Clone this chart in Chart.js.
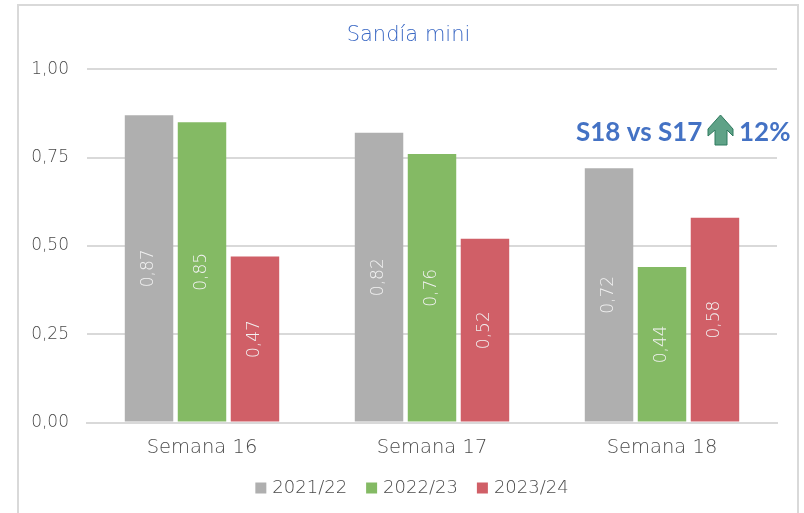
<!DOCTYPE html>
<html><head><meta charset="utf-8">
<style>html,body{margin:0;padding:0;background:#fff}canvas{display:block}</style>
<script src="https://cdn.jsdelivr.net/npm/chart.js@4"></script></head>
<body><div style="width:804px;height:513px;position:relative"><canvas id="c" width="804" height="513"></canvas></div>
<script>
const categories=["Semana 16","Semana 17","Semana 18"];
const series2122=[0.87,0.82,0.72];
const series2223=[0.85,0.76,0.44];
const series2324=[0.47,0.52,0.58];
const labels=["2021/22","2022/23","2023/24"];
const colors=["#AFAFAF","#84BA64","#D05F67"];
const yTicks=[0,0.25,0.5,0.75,1];
const FONT='"DejaVu Sans",sans-serif';
const BOLD='"Lato","Open Sans",sans-serif';
const TEXT='#4A4A4A';
const fmt=v=>v.toFixed(2).replace('.',',');
const decor={id:'decor',
 afterLayout(ch){const l=ch.legend,t=ch.titleBlock;
  l.left+=11;l.right+=11;l.top+=9;l.bottom+=9;
  t.left+=6;t.right+=6;ch.scales.x.bottom+=18;},
 beforeDraw(ch){const x=ch.ctx;x.save();x.strokeStyle='#D9D9D9';x.lineWidth=2;
  x.beginPath();x.moveTo(18,513);x.lineTo(18,5);x.lineTo(798,5);x.lineTo(798,513);x.stroke();x.restore();},
 afterDatasetsDraw(ch){const x=ch.ctx;x.save();
  ch.data.datasets.forEach((d,i)=>{ch.getDatasetMeta(i).data.forEach((b,j)=>{
   const cy=(b.y+b.base)/2;x.save();x.translate(b.x,cy);x.rotate(-Math.PI/2);
   x.fillStyle='#F2F2F2';x.font='200 17px '+FONT;x.textAlign='center';x.textBaseline='middle';
   x.fillText(fmt(d.data[j]),0,0);x.restore();});});
  x.font='bold 26px '+BOLD;x.fillStyle='#4472C4';x.textBaseline='middle';x.textAlign='left';
  x.fillText('S18 vs S17',576,133);x.fillText('12%',739,133);
  x.fillStyle='#5FA287';x.strokeStyle='#2F7A5F';x.lineWidth=1;
  x.beginPath();x.moveTo(720.5,115);x.lineTo(733,129);x.lineTo(733,136);x.lineTo(727,130);x.lineTo(727,145);x.lineTo(715,145);x.lineTo(715,130);x.lineTo(708,136);x.lineTo(708,129);x.closePath();x.fill();x.stroke();
  x.restore();}};
new Chart(document.getElementById('c'),{type:'bar',
 data:{labels:categories,datasets:[series2122,series2223,series2324].map((d,i)=>({label:labels[i],data:d,backgroundColor:colors[i],categoryPercentage:0.691,barPercentage:0.915}))},
 plugins:[decor],
 options:{responsive:false,animation:false,
  layout:{padding:{left:28,right:27,top:23,bottom:15}},
  plugins:{title:{display:true,text:'Sandía mini',color:'#3A68C4',font:{family:FONT,size:21,weight:'200'},padding:{top:0,bottom:21}},
   legend:{position:'bottom',labels:{font:{family:FONT,size:18,weight:'200'},color:TEXT,boxWidth:5,boxHeight:5,padding:22,
     generateLabels(ch){return Chart.defaults.plugins.legend.labels.generateLabels(ch).map(l=>({...l,lineWidth:6,strokeStyle:l.fillStyle}));}}},tooltip:{enabled:false}},
  scales:{x:{afterFit(a){a.height-=18;},grid:{display:false},border:{color:'#D9D9D9',width:2},ticks:{font:{family:FONT,size:19.5,weight:'200'},color:TEXT,padding:6}},
   y:{min:0,max:1,afterBuildTicks(a){a.ticks=yTicks.map(v=>({value:v}));},afterFit(a){a.width=59;},border:{display:false},grid:{color:'#D9D9D9',lineWidth:2,drawTicks:false},
    ticks:{callback:v=>fmt(v),font:{family:FONT,size:17,weight:'200'},color:TEXT,padding:18}}}}});
</script></body></html>
